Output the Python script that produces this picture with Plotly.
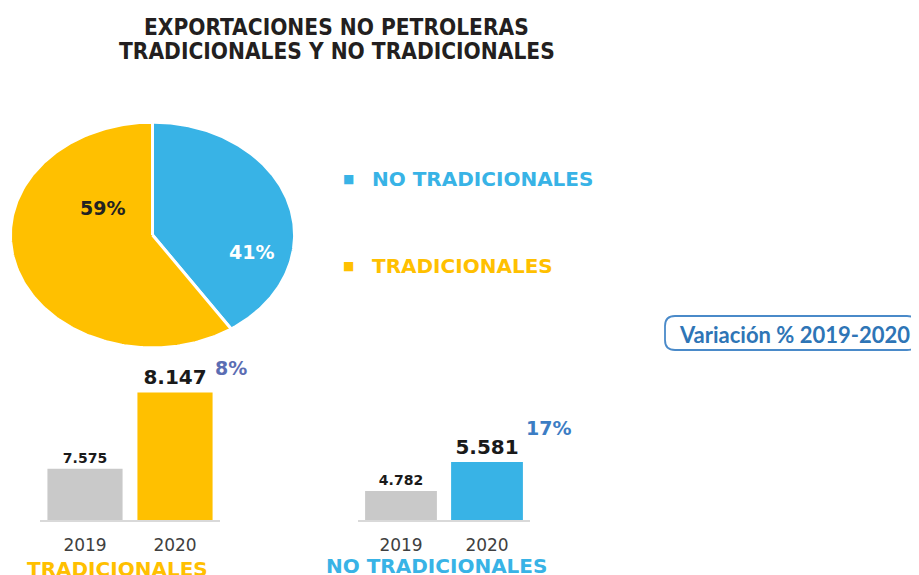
import numpy as np
import plotly.graph_objects as go

# ---------------- data ----------------
years = ["2019", "2020"]
trad_values = [7575, 8147]
no_trad_values = [4782, 5581]
pie_labels = ["NO TRADICIONALES", "TRADICIONALES"]

title_lines = ["EXPORTACIONES NO PETROLERAS", "TRADICIONALES Y NO TRADICIONALES"]
variation_label = "Variación % 2019-2020"

YELLOW = "#FFC000"
BLUE = "#38B3E6"
GRAY = "#C9C9C9"
OFF = 8  # page body margin
W, H = 919 - OFF, 575 - OFF


def px(x):
    return (x - OFF) / W


def py(y):
    return 1 - (y - OFF) / H


def ann(text, x, y, size, color, family="DejaVu Sans", xanchor="center", **kw):
    return dict(text=text, x=px(x), y=py(y), xref="paper", yref="paper", showarrow=False,
                xanchor=xanchor, yanchor="middle",
                font=dict(family=family, size=size, color=color, **kw))


fig = go.Figure()

# ---------------- pie (elliptical, drawn from 2020 shares) ----------------
shares_2020 = [no_trad_values[1], trad_values[1]]
total = sum(shares_2020)
fracs = [v / total for v in shares_2020]
pie_colors = [BLUE, YELLOW]
start = 0.0
for frac, col, lab in zip(fracs, pie_colors, pie_labels):
    t = np.linspace(start, start + frac, 200) * 2 * np.pi
    xs = np.concatenate([[0], np.sin(t), [0]])
    ys = np.concatenate([[0], np.cos(t), [0]])
    fig.add_trace(go.Scatter(
        x=xs, y=ys, mode="lines", fill="toself", fillcolor=col,
        line=dict(color="white", width=3), xaxis="x3", yaxis="y3",
        name=lab, showlegend=False, hoverinfo="skip"))
    start += frac

# ---------------- bars ----------------
fig.add_trace(go.Bar(
    x=years, y=trad_values, marker=dict(color=[GRAY, YELLOW], line=dict(width=0)),
    texttemplate="<b>%{y:,.0f}</b>", textposition="outside", cliponaxis=False,
    textfont=dict(family="DejaVu Sans", size=[14, 20], color="#1a1a1a"),
    xaxis="x", yaxis="y", showlegend=False))
fig.add_trace(go.Bar(
    x=years, y=no_trad_values, marker=dict(color=[GRAY, BLUE], line=dict(width=0)),
    texttemplate="<b>%{y:,.0f}</b>", textposition="outside", cliponaxis=False,
    textfont=dict(family="DejaVu Sans", size=[14, 20], color="#1a1a1a"),
    xaxis="x2", yaxis="y2", showlegend=False))

axis_common = dict(showgrid=False, zeroline=False, showline=True, linecolor="#D9D9D9",
                   linewidth=2, ticks="", fixedrange=True,
                   tickfont=dict(family="DejaVu Sans", size=17, color="#404040"),
                   ticklabelstandoff=9)
yaxis_common = dict(visible=False, fixedrange=True)

trad_var = round((trad_values[1] / trad_values[0] - 1) * 100)
no_trad_var = round((no_trad_values[1] / no_trad_values[0] - 1) * 100)

title_font = "DejaVu Sans Condensed, Liberation Sans, sans-serif"
annotations = [
    ann(title_lines[0], 336, 27, 22.5, "#231F20", family=title_font, weight="bold"),
    ann(title_lines[1], 337, 51, 22.5, "#231F20", family=title_font, weight="bold"),
    # pie labels
    ann("<b>59%</b>", 102, 208, 19, "#222222"),
    ann("<b>41%</b>", 252, 252, 19, "white"),
    # legend
    ann("■", 348, 179, 12, BLUE),
    ann("<b>" + pie_labels[0] + "</b>", 370, 179, 20, BLUE, xanchor="left"),
    ann("■", 348, 266, 12, YELLOW),
    ann("<b>" + pie_labels[1] + "</b>", 370, 266, 20, YELLOW, xanchor="left"),
    # variation
    ann("<b>" + variation_label + "</b>", 794, 334, 22, "#2E75B6",
        family="Lato, Carlito, sans-serif"),
    ann(f"<b>{trad_var}%</b>", 231, 368, 19, "#5B6DB3"),
    ann(f"<b>{no_trad_var}%</b>", 548, 428, 19, "#3C7DC4"),
    # group labels
    ann("<b>" + pie_labels[1] + "</b>", 117, 569, 20, YELLOW),
    ann("<b>" + pie_labels[0] + "</b>", 436, 566, 20, BLUE),
]

# rounded box
x0, x1, y0, y1 = px(665), px(917), py(350), py(316)
rx, ry = 10 / W, 10 / H
path = (f"M {x0+rx},{y0} L {x1-rx},{y0} Q {x1},{y0} {x1},{y0+ry} L {x1},{y1-ry} "
        f"Q {x1},{y1} {x1-rx},{y1} L {x0+rx},{y1} Q {x0},{y1} {x0},{y1-ry} "
        f"L {x0},{y0+ry} Q {x0},{y0} {x0+rx},{y0} Z")

fig.update_layout(
    width=W, height=H, margin=dict(l=0, r=0, t=0, b=0),
    paper_bgcolor="white", plot_bgcolor="white",
    separators=",.", bargap=0.165,
    xaxis=dict(domain=[px(40), px(220)], anchor="y", **axis_common),
    yaxis=dict(domain=[py(520), py(380)], range=[7190, 8240], anchor="x", **yaxis_common),
    xaxis2=dict(domain=[px(358), px(530)], anchor="y2", **axis_common),
    yaxis2=dict(domain=[py(520), py(380)], range=[3983, 7840], anchor="x2", **yaxis_common),
    xaxis3=dict(domain=[px(9), px(296)], range=[-1.01, 1.01], visible=False, fixedrange=True,
                anchor="y3"),
    yaxis3=dict(domain=[py(349), py(121)], range=[-1.01, 1.01], visible=False, anchor="x3",
                fixedrange=True),
    annotations=annotations,
    shapes=[dict(type="path", path=path, xref="paper", yref="paper",
                 line=dict(color="#4A8AC9", width=1.8))],
)

fig.write_html("out.html")
